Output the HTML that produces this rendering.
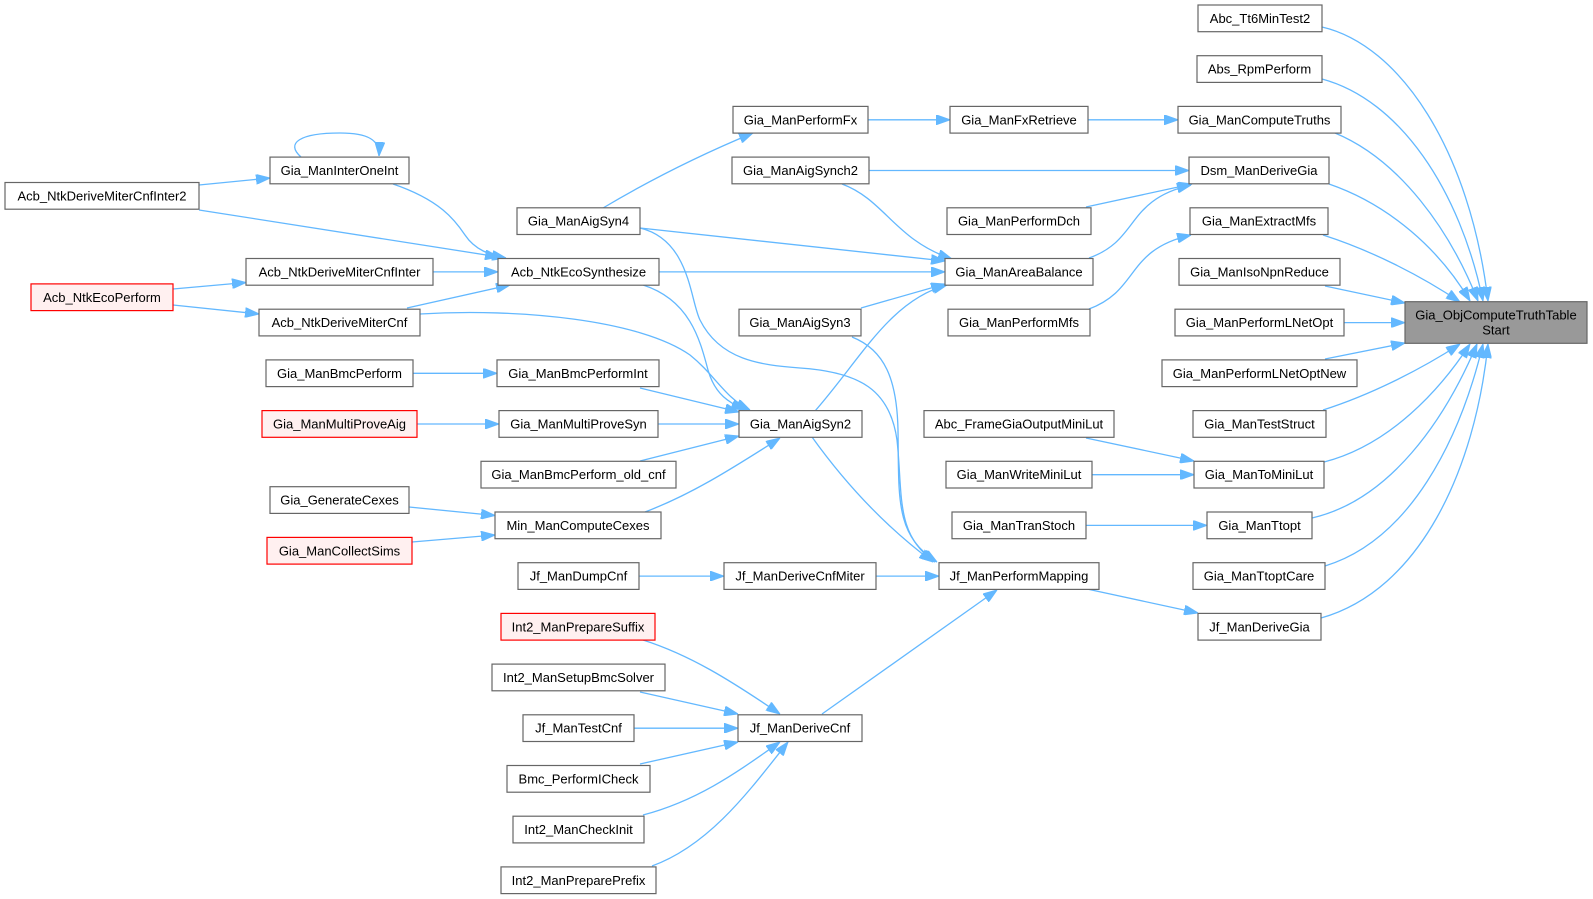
<!DOCTYPE html>
<html><head><meta charset="utf-8"><style>
html,body{margin:0;padding:0;background:#fff;}
svg{display:block;}
text{font-family:"Liberation Sans",Arial,sans-serif;font-size:13px;fill:#000;text-anchor:middle;}
.n{fill:#fff;stroke:#666;stroke-width:1.2;}
.r{fill:#FFF0F0;stroke:#FF0000;stroke-width:1.2;}
.m{fill:#999;stroke:#666;stroke-width:1.2;}
.e{fill:none;stroke:#63B8FF;stroke-width:1.3;marker-end:url(#ah);}
</style></head><body>
<svg width="1593" height="899" viewBox="0 0 1593 899" xmlns="http://www.w3.org/2000/svg">
<defs>
<marker id="ah" markerUnits="userSpaceOnUse" markerWidth="14" markerHeight="10" viewBox="0 0 14 10" refX="14" refY="5" orient="auto">
<path d="M0,0 L14,5 L0,10 z" fill="#63B8FF" stroke="#63B8FF" stroke-width="1"/>
</marker>
</defs>

<!-- edges into main -->
<path class="e" d="M1322,27 C1400,45 1470,150 1488,301"/>
<path class="e" d="M1322,79 C1400,100 1460,190 1483,301"/>
<path class="e" d="M1335,133 C1400,160 1450,230 1478,301"/>
<path class="e" d="M1329,184 C1390,205 1440,250 1470,301"/>
<path class="e" d="M1323,235 C1370,250 1420,275 1460,302"/>
<path class="e" d="M1325,286 L1405,303"/>
<path class="e" d="M1344,322.6 L1405,322.6"/>
<path class="e" d="M1325,359 L1405,343"/>
<path class="e" d="M1323,410 C1370,395 1420,370 1460,344"/>
<path class="e" d="M1324,462 C1390,445 1440,390 1470,344"/>
<path class="e" d="M1312,518 C1390,500 1445,420 1477,344"/>
<path class="e" d="M1325,566 C1410,540 1460,440 1483,344"/>
<path class="e" d="M1321,618 C1420,590 1475,470 1488,344"/>

<!-- into right column -->
<path class="e" d="M1088,119.8 L1178,119.8"/>
<path class="e" d="M868,119.8 L950,119.8"/>
<path class="e" d="M869,170.5 L1189,170.5"/>
<path class="e" d="M1086,207 L1192,184"/>
<path class="e" d="M1089,258 C1140,240 1125,200 1191,185"/>
<path class="e" d="M1089,309 C1140,290 1125,250 1191,235"/>
<path class="e" d="M1086,438 L1194,461"/>
<path class="e" d="M1092,474.7 L1194,474.7"/>
<path class="e" d="M1086,525.4 L1207,525.4"/>
<path class="e" d="M1087,589 L1198,613"/>

<!-- into AreaBalance -->
<path class="e" d="M842,184 C885,200 895,240 952,259"/>
<path class="e" d="M640,228 L945,261"/>
<path class="e" d="M659,271.9 L945,271.9"/>
<path class="e" d="M861,308 L945,284"/>
<path class="e" d="M815,411 C860,360 890,300 947,285"/>

<!-- into PerformMapping -->
<path class="e" d="M640,228 C690,240 690,300 700,320 C720,360 760,365 800,368 C860,372 890,390 897,440 C903,495 895,535 935,562"/>
<path class="e" d="M852,337 C885,350 897,380 898,430 C899,500 895,535 937,562"/>
<path class="e" d="M812,437 C850,490 890,530 933,562"/>
<path class="e" d="M876,576.1 L939,576.1"/>
<path class="e" d="M822,714 L997,590"/>

<!-- into AigSyn2 -->
<path class="e" d="M643,285 C690,300 700,340 708,370 C715,395 730,403 745,410"/>
<path class="e" d="M420,314 C520,308 640,320 690,355 C715,375 725,398 750,410"/>
<path class="e" d="M640,388 L739,412"/>
<path class="e" d="M658,424 L739,424"/>
<path class="e" d="M640,461 L739,436"/>
<path class="e" d="M645,512 C690,495 730,470 780,438"/>

<!-- into EcoSynthesize -->
<path class="e" d="M393,184 C440,200 455,220 465,235 C475,250 490,255 506,258"/>
<path class="e" d="M199,210 L499,257"/>
<path class="e" d="M433,271.9 L498,271.9"/>
<path class="e" d="M407,308 L510,285"/>

<!-- left side -->
<path class="e" d="M199,185 L270,178"/>
<path class="e" d="M301,157 C285,143 300,133 340,133 C368,133 380,140 379,156"/>
<path class="e" d="M173,289 L246,282.5"/>
<path class="e" d="M173,305 L259,314"/>
<path class="e" d="M413,373.3 L497,373.3"/>
<path class="e" d="M417,424 L499,424"/>
<path class="e" d="M409,507 L495,515.5"/>
<path class="e" d="M412,542 L495,535"/>
<path class="e" d="M639,576.1 L724,576.1"/>
<path class="e" d="M603,208 C650,180 700,155 753,133"/>

<!-- into Jf_ManDeriveCnf -->
<path class="e" d="M643,640 C690,655 730,680 780,714"/>
<path class="e" d="M640,692 L738,714"/>
<path class="e" d="M634,728.2 L738,728.2"/>
<path class="e" d="M640,764 L738,742"/>
<path class="e" d="M643,815 C700,800 740,770 780,742"/>
<path class="e" d="M652,866 C710,845 750,790 788,742"/>

<!-- main node -->
<rect class="m" x="1405" y="301.7" width="182" height="41.6"/>
<text x="1496" y="319.5">Gia_ObjComputeTruthTable</text>
<text x="1496" y="334.5">Start</text>

<!-- right column -->
<rect class="n" x="1198" y="5" width="124" height="26.7"/><text x="1260" y="22.9">Abc_Tt6MinTest2</text>
<rect class="n" x="1197" y="55.7" width="125" height="26.7"/><text x="1259.5" y="73.6">Abs_RpmPerform</text>
<rect class="n" x="1178" y="106.4" width="163" height="26.7"/><text x="1259.5" y="124.3">Gia_ManComputeTruths</text>
<rect class="n" x="1189" y="157.1" width="140" height="26.7"/><text x="1259" y="175">Dsm_ManDeriveGia</text>
<rect class="n" x="1190" y="207.8" width="138" height="26.7"/><text x="1259" y="225.7">Gia_ManExtractMfs</text>
<rect class="n" x="1179" y="258.5" width="161" height="26.7"/><text x="1259.5" y="276.4">Gia_ManIsoNpnReduce</text>
<rect class="n" x="1175" y="309.2" width="169" height="26.7"/><text x="1259.5" y="327.1">Gia_ManPerformLNetOpt</text>
<rect class="n" x="1162" y="359.9" width="195" height="26.7"/><text x="1259.5" y="377.8">Gia_ManPerformLNetOptNew</text>
<rect class="n" x="1193" y="410.6" width="133" height="26.7"/><text x="1259.5" y="428.5">Gia_ManTestStruct</text>
<rect class="n" x="1194" y="461.3" width="130" height="26.7"/><text x="1259" y="479.2">Gia_ManToMiniLut</text>
<rect class="n" x="1207" y="512" width="105" height="26.7"/><text x="1259.5" y="529.9">Gia_ManTtopt</text>
<rect class="n" x="1193" y="562.7" width="132" height="26.7"/><text x="1259" y="580.6">Gia_ManTtoptCare</text>
<rect class="n" x="1198" y="613.4" width="123" height="26.7"/><text x="1259.5" y="631.3">Jf_ManDeriveGia</text>

<!-- column ~1019 -->
<rect class="n" x="950" y="106.4" width="138" height="26.7"/><text x="1019" y="124.3">Gia_ManFxRetrieve</text>
<rect class="n" x="947" y="207.8" width="144" height="26.7"/><text x="1019" y="225.7">Gia_ManPerformDch</text>
<rect class="n" x="945" y="258.5" width="148" height="26.7"/><text x="1019" y="276.4">Gia_ManAreaBalance</text>
<rect class="n" x="948" y="309.2" width="142" height="26.7"/><text x="1019" y="327.1">Gia_ManPerformMfs</text>
<rect class="n" x="924" y="410.6" width="190" height="26.7"/><text x="1019" y="428.5">Abc_FrameGiaOutputMiniLut</text>
<rect class="n" x="946" y="461.3" width="146" height="26.7"/><text x="1019" y="479.2">Gia_ManWriteMiniLut</text>
<rect class="n" x="952" y="512" width="134" height="26.7"/><text x="1019" y="529.9">Gia_ManTranStoch</text>
<rect class="n" x="939" y="562.7" width="160" height="26.7"/><text x="1019" y="580.6">Jf_ManPerformMapping</text>

<!-- column ~800 -->
<rect class="n" x="733" y="106.4" width="135" height="26.7"/><text x="800.5" y="124.3">Gia_ManPerformFx</text>
<rect class="n" x="732" y="157.1" width="137" height="26.7"/><text x="800.5" y="175">Gia_ManAigSynch2</text>
<rect class="n" x="739" y="309.2" width="122" height="26.7"/><text x="800" y="327.1">Gia_ManAigSyn3</text>
<rect class="n" x="739" y="410.6" width="123" height="26.7"/><text x="800.5" y="428.5">Gia_ManAigSyn2</text>
<rect class="n" x="724" y="562.7" width="152" height="26.7"/><text x="800" y="580.6">Jf_ManDeriveCnfMiter</text>
<rect class="n" x="738" y="714.8" width="124" height="26.7"/><text x="800" y="732.7">Jf_ManDeriveCnf</text>

<!-- column ~578 -->
<rect class="n" x="517" y="207.8" width="123" height="26.7"/><text x="578.5" y="225.7">Gia_ManAigSyn4</text>
<rect class="n" x="498" y="258.5" width="161" height="26.7"/><text x="578.5" y="276.4">Acb_NtkEcoSynthesize</text>
<rect class="n" x="497" y="359.9" width="162" height="26.7"/><text x="578" y="377.8">Gia_ManBmcPerformInt</text>
<rect class="n" x="499" y="410.6" width="159" height="26.7"/><text x="578.5" y="428.5">Gia_ManMultiProveSyn</text>
<rect class="n" x="481" y="461.3" width="195" height="26.7"/><text x="578.5" y="479.2">Gia_ManBmcPerform_old_cnf</text>
<rect class="n" x="495" y="512" width="166" height="26.7"/><text x="578" y="529.9">Min_ManComputeCexes</text>
<rect class="n" x="518" y="562.7" width="121" height="26.7"/><text x="578.5" y="580.6">Jf_ManDumpCnf</text>
<rect class="r" x="501" y="613.4" width="154" height="26.7"/><text x="578" y="631.3">Int2_ManPrepareSuffix</text>
<rect class="n" x="492" y="664.1" width="173" height="26.7"/><text x="578.5" y="682">Int2_ManSetupBmcSolver</text>
<rect class="n" x="523" y="714.8" width="111" height="26.7"/><text x="578.5" y="732.7">Jf_ManTestCnf</text>
<rect class="n" x="507" y="765.5" width="143" height="26.7"/><text x="578.5" y="783.4">Bmc_PerformICheck</text>
<rect class="n" x="513" y="816.2" width="131" height="26.7"/><text x="578.5" y="834.1">Int2_ManCheckInit</text>
<rect class="n" x="501" y="866.9" width="155" height="26.7"/><text x="578.5" y="884.8">Int2_ManPreparePrefix</text>

<!-- column ~340 -->
<rect class="n" x="270" y="157.1" width="139" height="26.7"/><text x="339.5" y="175">Gia_ManInterOneInt</text>
<rect class="n" x="246" y="258.5" width="187" height="26.7"/><text x="339.5" y="276.4">Acb_NtkDeriveMiterCnfInter</text>
<rect class="n" x="259" y="309.2" width="161" height="26.7"/><text x="339.5" y="327.1">Acb_NtkDeriveMiterCnf</text>
<rect class="n" x="266" y="359.9" width="147" height="26.7"/><text x="339.5" y="377.8">Gia_ManBmcPerform</text>
<rect class="r" x="262" y="410.6" width="155" height="26.7"/><text x="339.5" y="428.5">Gia_ManMultiProveAig</text>
<rect class="n" x="270" y="486.7" width="139" height="26.7"/><text x="339.5" y="504.6">Gia_GenerateCexes</text>
<rect class="r" x="267" y="537.4" width="145" height="26.7"/><text x="339.5" y="555.3">Gia_ManCollectSims</text>

<!-- column ~100 -->
<rect class="n" x="5" y="182.5" width="194" height="26.7"/><text x="102" y="200.4">Acb_NtkDeriveMiterCnfInter2</text>
<rect class="r" x="31" y="283.9" width="142" height="26.7"/><text x="102" y="301.8">Acb_NtkEcoPerform</text>
</svg>
</body></html>
